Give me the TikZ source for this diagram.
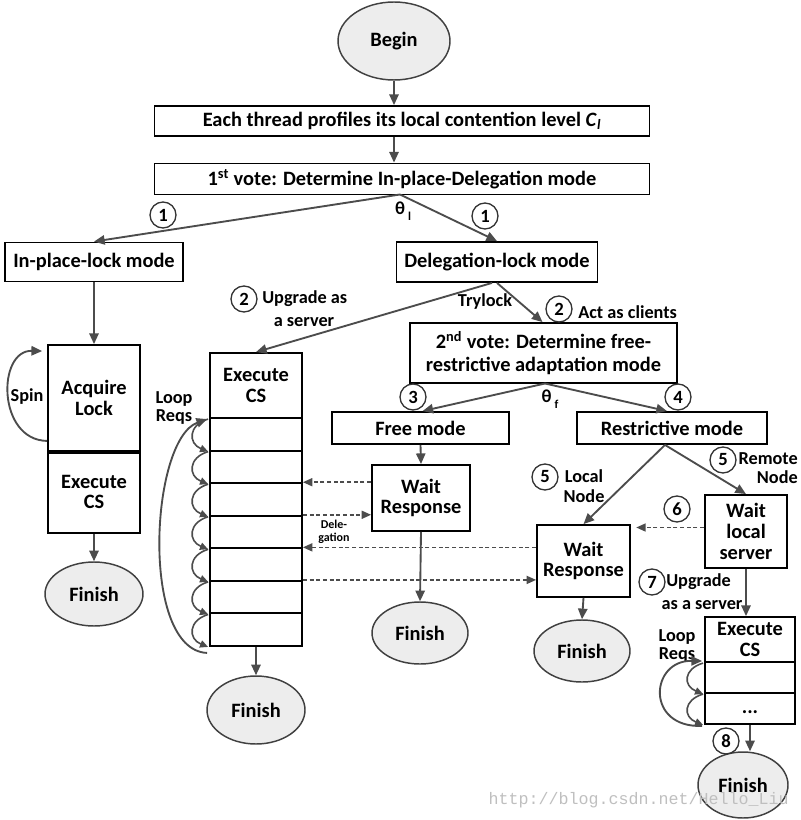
\documentclass[tikz,border=0pt]{standalone}
\usepackage{fontspec}
\setmainfont{Carlito}
\newfontfamily\wmfont{Liberation Mono}
\usetikzlibrary{shapes.geometric,arrows.meta,calc}
\begin{document}
\begin{tikzpicture}[x=0.75pt,y=-0.75pt,
  font=\bfseries\fontsize{15.3}{15.5}\selectfont,
  bx/.style 2 args={draw=black, line width=1.4pt, minimum width=#1*0.75pt, minimum height=#2*0.75pt, inner sep=0pt, align=center},
  fin/.style 2 args={ellipse, draw=black!75, line width=1.1pt, fill=black!7, minimum width=#1*0.75pt, minimum height=#2*0.75pt, inner sep=0pt},
  arr/.style={draw=black!70, line width=1.4pt, -{Triangle[length=8pt,width=7pt]}},
  sarr/.style={draw=black!70, line width=1.2pt, -{Triangle[length=6pt,width=5.5pt]}},
  dsh/.style={draw=black!70, line width=1.1pt, dash pattern=on 3pt off 2pt, -{Triangle[length=7pt,width=6pt]}},
  num/.style={circle, draw=black!80, line width=1pt, minimum size=19.5pt, inner sep=0pt, font=\bfseries\fontsize{14}{14}\selectfont},
  lbl/.style={align=center, inner sep=0pt, font=\bfseries\fontsize{13.7}{14.5}\selectfont},
]
\useasboundingbox (0,0) rectangle (800,820);

% top
\node[fin={112}{78}] (begin) at (394,41) {Begin};
\node[bx={495}{30}] (prof) at (402,121) {Each thread profiles its local contention level \textit{C}\textsubscript{\textit{l}}};
\node[bx={495}{31}] (vote1) at (402,179) {1\textsuperscript{st} vote: Determine In-place-Delegation mode};
\draw[arr] (begin.south) -- (begin.south|-prof.north);
\draw[arr] (begin.south|-prof.south) -- (begin.south|-vote1.north);

\coordinate (v1) at (400,194.5);
\node[bx={178}{39}] (inplace) at (94,262) {In-place-lock mode};
\node[bx={201}{40}] (deleg) at (497,262) {Delegation-lock mode};
\draw[arr] (v1) -- (inplace.north);
\draw[arr] (v1) -- (deleg.north);
\node[num] (c1a) at (163,215) {1};
\node[num] (c1b) at (485,216) {1};
\node[lbl] (thl) at (403,211) {θ\,\raisebox{-0.7ex}{\fontsize{9}{9}\selectfont l}};

% left column
\node[bx={92}{106}] (acq) at (94,398) {Acquire\\Lock};
\node[bx={92}{82}] (exe1) at (94,492) {Execute\\CS};
\draw[line width=3pt] (acq.south west) -- (acq.south east);
\draw[arr] (inplace.south) -- (acq.north);
\draw[arr] ($(acq.south west)+(0,-11)$) .. controls (-3,440) and (-3,350) .. ($(acq.north west)+(-5,7)$);
\node[lbl] (spin) at (27,397) {Spin};
\node[fin={98}{64}] (fin1) at (94,594) {Finish};
\draw[arr] (exe1.south) -- (fin1.north);

% middle column (server)
\node[bx={92}{65}] (mcs) at (256,385.5) {Execute\\CS};
\foreach \i in {1,...,7}
  \node[bx={92}{32.57}] (r\i) at (256,{418+32.57*(\i-0.5)}) {};
\foreach \i in {1,...,7}
  \draw[sarr] ($(r\i.north west)+(-1,2)$) .. controls +(-20,6) and +(-20,-8) .. ($(r\i.south west)+(-1,0)$);
\draw[arr] ($(r7.south west)+(-2,6)$) .. controls (140,650) and (150,440) .. ($(r1.north west)+(-2,2)$);
\node[lbl, font=\bfseries\fontsize{13.7}{13}\selectfont] (loop1) at (174,408) {Loop\\Reqs};
\draw[arr] ($(deleg.south)+(-5,0)$) -- (mcs.north);
\node[num] (c2a) at (244,299) {2};
\node[lbl, anchor=west] (upg1) at (262,299) {Upgrade as};
\node[lbl] (upg2) at (304,322) {a server};
\node[fin={98}{68}] (fin2) at (256,710) {Finish};
\draw[arr] (r7.south) -- (fin2.north);

% second vote
\node[bx={267}{60}] (vote2) at (543.5,353) {2\textsuperscript{nd} vote: Determine free-\\[2pt]restrictive adaptation mode};
\draw[arr] (deleg.south) -- ($(vote2.north)+(-1,0)$);
\node[lbl] (try) at (485,302) {Trylock};
\node[num] (c2b) at (559,309) {2};
\node[lbl, anchor=west] (act) at (578,312) {Act as clients};

\node[bx={177}{32}] (free) at (420.5,428) {Free mode};
\node[bx={190}{32}] (restr) at (672,428) {Restrictive mode};
\coordinate (v2) at (545,383.5);
\draw[arr] (v2) -- ($(free.north)+(2,0)$);
\draw[arr] (v2) -- ($(restr.north)+(-5,0)$);
\node[num] (c3) at (413,397) {3};
\node[num] (c4) at (678,397) {4};
\node[lbl] (thf) at (550,399) {θ\,\raisebox{-0.7ex}{\fontsize{9}{9}\selectfont f}};

% free mode branch
\node[bx={98}{66}] (wr1) at (421,498) {Wait\\Response};
\draw[arr] (free.south) -- (wr1.north);
\node[fin={96}{62}] (fin3) at (420,633) {Finish};
\draw[arr] (wr1.south) -- (fin3.north);

% restrictive branch
\node[bx={93}{72}] (wr2) at (583.5,561) {Wait\\Response};
\node[bx={82}{73}] (wls) at (746,531.5) {Wait\\local\\server};
\draw[arr] ($(restr.south)+(-7,0)$) -- (wr2.north);
\draw[arr] ($(restr.south)+(-7,0)$) -- (wls.north);
\node[num] (c5a) at (545,477) {5};
\node[lbl] (locn) at (584,486) {Local\\Node};
\node[num] (c5b) at (723,460) {5};
\node[lbl, anchor=east, align=right] (remn) at (798,468) {Remote\\Node};
\node[num] (c6) at (677,509) {6};
\draw[dsh, shorten >=4pt] ($(wls.west)+(0,-4)$) -- ($(wls.west -| wr2.east)+(0,-4)$);
\node[fin={96}{62}] (fin4) at (582,651) {Finish};
\draw[arr] (wr2.south) -- (fin4.north);

% delegation dashed arrows
\draw[dsh] (wr1.west |- r3.north east) -- (r3.north east);
\draw[dsh] (r4.north east) -- (wr1.west |- r4.north east);
\draw[dsh] (wr2.west |- r5.north east) -- (r5.north east);
\draw[dsh] (r6.north east) -- (wr2.west |- r6.north east);
\node[lbl, font=\bfseries\fontsize{9}{9.5}\selectfont] (deleglbl) at (334,532) {Dele-\\gation};

% right column
\node[bx={90}{45}] (rcs) at (750,639.5) {Execute\\CS};
\node[bx={90}{31}] (s1) at (750,677.5) {};
\node[bx={90}{31}] (s2) at (750,708.5) {\raisebox{-1ex}{...}};
\draw[arr] (wls.south) -- (wls.south |- rcs.north);
\node[num] (c7) at (652,582) {7};
\node[lbl, anchor=west] (upg3) at (666,582) {Upgrade};
\node[lbl] (upg4) at (702,605) {as a server};
\node[lbl, font=\bfseries\fontsize{13.7}{13}\selectfont] (loop2) at (677,646) {Loop\\Reqs};
\draw[sarr] ($(s1.north west)+(-1,2)$) .. controls +(-20,6) and +(-20,-8) .. ($(s1.south west)+(-1,0)$);
\draw[sarr] ($(s2.north west)+(-1,2)$) .. controls +(-20,6) and +(-20,-8) .. ($(s2.south west)+(-1,0)$);
\draw[arr] ($(s2.south west)+(-2,1)$) .. controls (645,728) and (650,660) .. ($(s1.north west)+(-2,0)$);
\node[fin={90}{66}] (fin5) at (743,785) {Finish};
\draw[arr] (s2.south) -- (s2.south |- fin5.north);
\node[num] (c8) at (726,741) {8};

% watermark
\node[font=\wmfont\fontsize{12.5}{13}\selectfont, text=black!25, anchor=east, inner sep=0pt] (wm) at (789,800) {http://blog.csdn.net/Hello\_Liu};
\end{tikzpicture}
\end{document}
